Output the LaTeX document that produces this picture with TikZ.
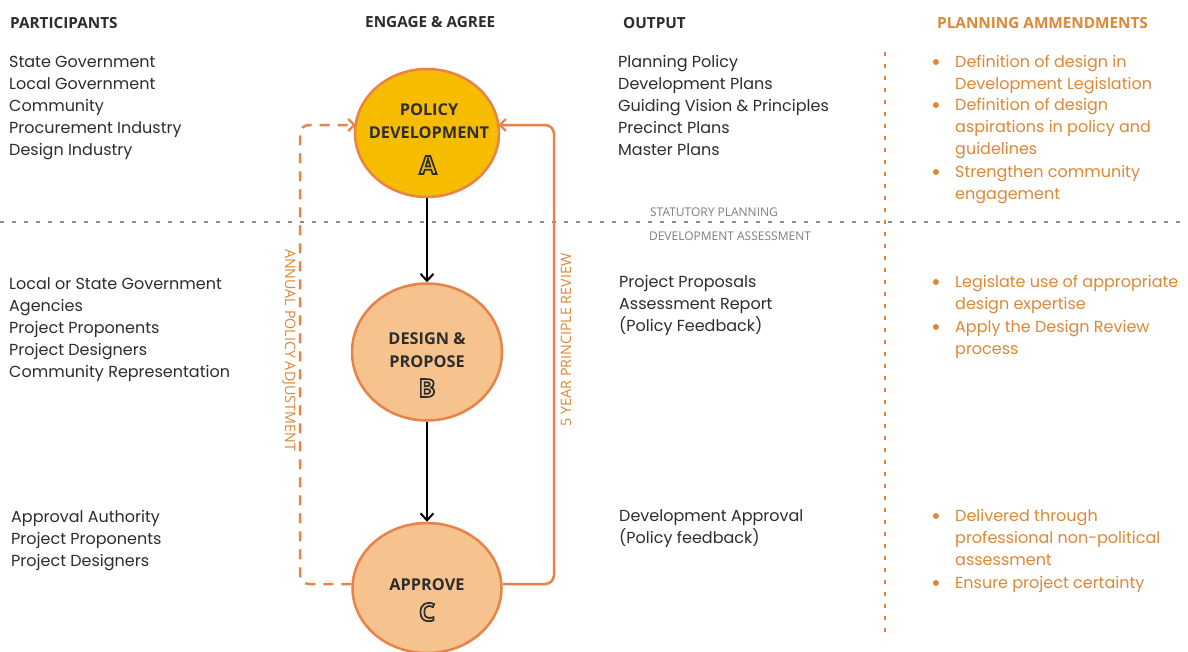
\documentclass[tikz,border=0pt]{standalone}
\usepackage{fontspec}
\setmainfont{Poppins}
\newfontfamily\hfont{Open Sans}
\usetikzlibrary{shapes.geometric,arrows.meta,calc}
\definecolor{ostroke}{RGB}{232,130,72}
\definecolor{yfill}{RGB}{246,188,0}
\definecolor{pfill}{RGB}{246,194,142}
\definecolor{otext}{RGB}{222,135,55}
\definecolor{txt}{RGB}{45,45,45}
\definecolor{gline}{RGB}{140,140,140}
\definecolor{vline}{RGB}{230,128,50}
\newcommand\mlines[1]{\begin{tabular}[t]{@{}l@{}}#1\end{tabular}}
\newcommand\hollow[1]{\special{pdf:literal direct 1 Tr 1.7 w}#1\special{pdf:literal direct 0 Tr}}
\tikzset{
  body/.style={font=\fontsize{16}{22}\selectfont, text=txt, anchor=base west, inner sep=0pt},
  amend/.style={body, text=otext},
  bul/.style={font=\fontsize{24}{22}\selectfont, text=otext, anchor=base west, inner sep=0pt},
  head/.style={font=\hfont\bfseries\fontsize{15.3}{17}\selectfont, text=txt, anchor=base west, inner sep=0pt},
  proc/.style={ellipse, draw=ostroke, line width=2.5pt, inner sep=0pt},
  ptext/.style={font=\hfont\bfseries\fontsize{16.3}{23}\selectfont, text=txt, align=center, inner sep=0pt},
  pletter/.style={font=\hfont\bfseries\fontsize{25}{26}\selectfont, text=txt, inner sep=0pt},
  flow/.style={draw=black, line width=2pt, -{Straight Barb[length=7pt,width=13pt,line width=2pt]}},
  loopsolid/.style={draw=ostroke, line width=2.5pt, rounded corners=9pt, -{Straight Barb[length=6pt,width=12pt,line width=2.2pt]}},
  loopdash/.style={loopsolid, dash pattern=on 10pt off 8pt},
  vlabel/.style={font=\hfont\fontsize{14.3}{16}\selectfont, text=otext, inner sep=0pt},
  slabel/.style={font=\hfont\fontsize{12}{14}\selectfont, text=gline!90!black, inner sep=0pt},
}
\begin{document}
\begin{tikzpicture}[x=1pt,y=-1pt]
\useasboundingbox[fill=white] (0,0) rectangle (1188,651);

% headers
\node[head] (h1) at (10,28) {PARTICIPANTS};
\node[head] (h2) at (365,27) {ENGAGE \& AGREE};
\node[head] (h3) at (623,28) {OUTPUT};
\node[head, text=otext] (h4) at (937,28) {PLANNING AMMENDMENTS};

% separators
\draw[gline, line width=2.5pt, dash pattern=on 4pt off 8pt] (0,222) -- (1188,222);
\draw[vline, line width=2.5pt, dash pattern=on 4pt off 8pt] (885,52) -- (885,640);
\node[slabel] (sp) at (714,212) {STATUTORY PLANNING};
\node[slabel] (da) at (730,236) {DEVELOPMENT ASSESSMENT};

% participants
\node[body] (p1) at (9,67) {\mlines{State Government\\Local Government\\Community\\Procurement Industry\\Design Industry}};
\node[body] (p2) at (9,289) {\mlines{Local or State Government\\Agencies\\Project Proponents\\Project Designers\\Community Representation}};
\node[body] (p3) at (11,522) {\mlines{Approval Authority\\Project Proponents\\Project Designers}};

% outputs
\node[body] (o1) at (618,67) {\mlines{Planning Policy\\Development Plans\\Guiding Vision \& Principles\\Precinct Plans\\Master Plans}};
\node[body] (o2) at (619,287) {\mlines{Project Proposals\\Assessment Report\\(Policy Feedback)}};
\node[body] (o3) at (619,521) {\mlines{Development Approval\\(Policy feedback)}};

% amendments
\node[bul] (b1) at (931,70) {•};
\node[amend] (a1) at (955,67) {\mlines{Definition of design in\\Development Legislation}};
\node[bul] (b2) at (931,113) {•};
\node[amend] (a2) at (955,110) {\mlines{Definition of design\\aspirations in policy and\\guidelines}};
\node[bul] (b3) at (931,180) {•};
\node[amend] (a3) at (955,177) {\mlines{Strengthen community\\engagement}};
\node[bul] (b4) at (931,290) {•};
\node[amend] (a4) at (955,287) {\mlines{Legislate use of appropriate\\design expertise}};
\node[bul] (b5) at (931,335) {•};
\node[amend] (a5) at (955,332) {\mlines{Apply the Design Review\\process}};
\node[bul] (b6) at (931,524) {•};
\node[amend] (a6) at (955,521) {\mlines{Delivered through\\professional non-political\\assessment}};
\node[bul] (b7) at (931,591) {•};
\node[amend] (a7) at (955,588) {\mlines{Ensure project certainty}};

% process ellipses
\node[proc, fill=yfill, minimum width=144pt, minimum height=128pt] (A) at (427,133) {};
\node[proc, fill=pfill, minimum width=150pt, minimum height=137pt] (B) at (427,352) {};
\node[proc, fill=pfill, minimum width=149pt, minimum height=130pt] (C) at (427,588) {};

\node[ptext] (At) at (429,121) {POLICY\\DEVELOPMENT};
\node[pletter] (Al) at (428,165) {\hollow{A}};
\node[ptext] (Bt) at (427,350) {DESIGN \&\\PROPOSE};
\node[pletter] (Bl) at (427,388) {\hollow{B}};
\node[ptext] (Ct) at (427,585) {APPROVE};
\node[pletter] (Cl) at (427,612) {\hollow{C}};

% flow arrows
\draw[flow] (A.south) -- (B.north);
\draw[flow] (B.south) -- (C.north);

% feedback loops
\coordinate (la) at (300,125);
\coordinate (ra) at (554,125);
\draw[loopdash] ($(C.west)+(0,-4)$) -| (la) -- ($(A.west)+(2,-8)$);
\draw[loopsolid] ($(C.east)+(0,-4)$) -| (ra) -- ($(A.east)+(-2,-8)$);

\node[vlabel, rotate=-90] (ap) at (289,350) {ANNUAL POLICY ADJUSTMENT};
\node[vlabel, rotate=90] (yr) at (566,340) {5 YEAR PRINCIPLE REVIEW};
\end{tikzpicture}
\end{document}
